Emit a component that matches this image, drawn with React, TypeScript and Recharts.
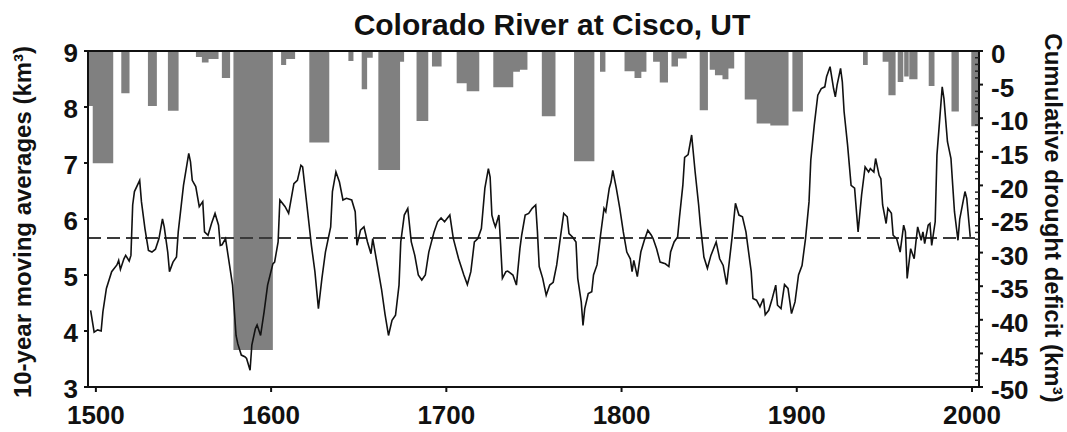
import { ComposedChart, Line, Area, XAxis, YAxis, ReferenceLine } from 'recharts'

const FONT = '"Liberation Sans", Arial, Helvetica, sans-serif'

// 10-year moving average flow (km³)
const flowYears = [
  1497, 1499, 1501, 1503, 1504, 1506, 1509, 1512, 1513, 1514, 1516, 1517, 1519, 1520, 1521, 1522, 1525, 1526, 1528, 1530,
  1532, 1534, 1536, 1538, 1539, 1541, 1542, 1544, 1546, 1547, 1550, 1553, 1554, 1555, 1557, 1559, 1561, 1562, 1564, 1566,
  1568, 1570, 1571, 1572, 1574, 1575, 1578, 1580, 1581, 1583, 1585, 1586, 1588, 1589, 1591, 1592, 1594, 1596, 1598, 1601,
  1602, 1604, 1605, 1608, 1610, 1613, 1615, 1617, 1618, 1620, 1623, 1625, 1627, 1629, 1631, 1634, 1635, 1637, 1639, 1641,
  1643, 1646, 1648, 1649, 1651, 1653, 1655, 1657, 1658, 1660, 1663, 1665, 1667, 1669, 1671, 1673, 1674, 1676, 1678, 1680,
  1682, 1684, 1686, 1688, 1690, 1693, 1695, 1697, 1699, 1702, 1704, 1707, 1710, 1712, 1714, 1716, 1718, 1720, 1722, 1724,
  1725, 1726, 1727, 1728, 1730, 1731, 1732, 1734, 1735, 1738, 1740, 1742, 1743, 1745, 1747, 1749, 1751, 1752, 1753, 1755,
  1757, 1759, 1761, 1763, 1765, 1767, 1769, 1770, 1772, 1774, 1775, 1777, 1778, 1779, 1781, 1783, 1784, 1786, 1788, 1790,
  1791, 1793, 1794, 1795, 1797, 1799, 1801, 1803, 1805, 1806, 1807, 1809, 1811, 1813, 1815, 1817, 1818, 1820, 1822, 1825,
  1827, 1828, 1830, 1832, 1833, 1835, 1836, 1838, 1840, 1842, 1844, 1845, 1847, 1849, 1851, 1854, 1856, 1858, 1860, 1863,
  1865, 1867, 1869, 1871, 1872, 1874, 1875, 1877, 1879, 1881, 1882, 1884, 1886, 1888, 1889, 1891, 1893, 1895, 1897, 1899,
  1901, 1903, 1905, 1907, 1908, 1910, 1912, 1914, 1916, 1917, 1919, 1921, 1922, 1923, 1925, 1926, 1927, 1929, 1931, 1933,
  1935, 1937, 1939, 1941, 1942, 1944, 1945, 1947, 1948, 1949, 1951, 1952, 1954, 1955, 1957, 1959, 1961, 1962, 1963, 1965,
  1967, 1968, 1969, 1971, 1972, 1973, 1975, 1976, 1977, 1979, 1980, 1983, 1984, 1986, 1988, 1989, 1990, 1992, 1993, 1996,
  1997, 1999,
]
const flowAvg = [
  4.37, 3.98, 4.02, 4.0, 4.34, 4.76, 5.06, 5.18, 5.26, 5.1, 5.29, 5.35, 5.25, 5.35, 6.25, 6.49, 6.69, 6.31, 5.83, 5.44,
  5.41, 5.46, 5.65, 6.0, 5.86, 5.41, 5.06, 5.23, 5.32, 5.77, 6.6, 7.17, 7.02, 6.69, 6.58, 6.22, 6.31, 5.77, 5.71, 5.92,
  6.1, 5.89, 5.53, 5.54, 5.65, 5.44, 4.82, 3.92, 3.77, 3.57, 3.54, 3.51, 3.3, 3.75, 4.04, 4.11, 3.92, 4.34, 4.82, 5.2,
  5.23, 5.59, 6.34, 6.22, 6.1, 6.63, 6.69, 6.96, 6.93, 6.37, 5.53, 5.06, 4.4, 4.94, 5.41, 5.86, 6.49, 6.84, 6.66, 6.34,
  6.37, 6.34, 6.13, 5.53, 5.8, 5.86, 5.59, 5.38, 5.65, 5.29, 4.75, 4.3, 3.92, 4.19, 4.28, 4.82, 5.59, 6.07, 6.19, 5.59,
  5.35, 5.0, 4.91, 5.0, 5.41, 5.77, 5.95, 6.02, 5.95, 6.07, 5.65, 5.29, 5.0, 4.83, 5.06, 5.59, 5.65, 5.83, 6.55, 6.9,
  6.75, 6.07, 5.95, 5.86, 6.07, 5.53, 4.94, 5.06, 5.07, 5.0, 4.82, 5.47, 5.71, 6.07, 6.1, 6.19, 6.25, 5.77, 5.15, 4.94,
  4.64, 4.82, 4.87, 5.18, 5.65, 6.1, 6.04, 5.74, 5.68, 5.59, 4.94, 4.52, 4.1, 4.4, 4.67, 4.7, 5.0, 5.18, 5.71, 6.19,
  6.13, 6.55, 6.66, 6.87, 6.55, 6.19, 5.77, 5.41, 5.29, 5.06, 5.26, 4.97, 5.41, 5.62, 5.8, 5.71, 5.65, 5.47, 5.23, 5.2,
  5.15, 5.41, 5.59, 5.68, 6.01, 6.61, 7.1, 7.15, 7.5, 6.84, 6.25, 5.89, 5.32, 5.12, 5.35, 5.59, 5.29, 5.17, 4.83, 5.65,
  6.28, 6.07, 6.04, 5.77, 5.53, 5.06, 4.58, 4.55, 4.43, 4.58, 4.29, 4.37, 4.58, 4.82, 4.46, 4.4, 4.83, 4.76, 4.31, 4.52,
  5.0, 5.17, 5.65, 6.31, 7.05, 7.68, 8.21, 8.33, 8.36, 8.54, 8.72, 8.33, 8.18, 8.39, 8.69, 8.45, 7.92, 7.32, 6.6, 6.55,
  5.77, 6.43, 6.93, 6.84, 6.9, 6.84, 7.08, 6.78, 6.72, 6.25, 5.92, 6.19, 6.1, 5.71, 5.65, 5.41, 5.89, 5.77, 4.94, 5.47,
  5.29, 5.59, 5.86, 5.62, 5.77, 5.56, 5.89, 5.92, 5.53, 5.95, 7.14, 8.36, 8.15, 7.38, 7.08, 6.6, 6.13, 5.62, 6.0, 6.49,
  6.37, 5.68,
]

// drought events: start year, end year, cumulative deficit (km³)
const droughtStart = [
  1495.5, 1498.2, 1514.5, 1529.7, 1541.1, 1557.1, 1560.5, 1564.3, 1571.9, 1578.5, 1605.7, 1608.6, 1621.8, 1644.1, 1651.7,
  1654.8, 1661.2, 1673.6, 1683.0, 1691.8, 1705.9, 1711.6, 1726.8, 1738.2, 1742.0, 1754.5, 1772.9, 1787.7, 1801.7, 1807.4,
  1811.3, 1818.0, 1821.8, 1828.5, 1832.2, 1844.6, 1850.3, 1853.3, 1857.6, 1861.0, 1870.3, 1877.1, 1884.9, 1897.5, 1937.8,
  1949.0, 1952.3, 1957.6, 1961.3, 1964.2, 1975.3, 1988.3, 1999.6,
]
const droughtEnd = [
  1498.2, 1509.9, 1519.2, 1534.8, 1547.2, 1560.5, 1564.3, 1570.0, 1576.6, 1601.0, 1608.6, 1613.7, 1633.2, 1647.0, 1654.8,
  1658.0, 1673.6, 1675.9, 1689.7, 1697.3, 1711.6, 1718.8, 1738.2, 1742.0, 1746.3, 1762.3, 1784.5, 1790.8, 1807.4, 1811.3,
  1814.2, 1821.8, 1826.5, 1832.2, 1837.2, 1849.3, 1853.3, 1857.6, 1861.0, 1864.3, 1877.1, 1884.9, 1895.3, 1903.5, 1940.5,
  1952.3, 1956.4, 1960.8, 1963.9, 1968.9, 1978.6, 1992.5, 2004.0,
]
const droughtDeficit = [
  -8.2, -16.7, -6.3, -8.2, -8.9, -0.9, -1.7, -1.2, -4.0, -44.5, -2.1, -1.2, -13.6, -1.5, -5.7,
  -1.0, -17.7, -1.6, -10.4, -2.3, -4.8, -6.0, -5.4, -3.1, -2.8, -9.7, -16.4, -3.1, -3.0, -4.0,
  -3.1, -1.6, -4.7, -2.3, -1.1, -8.8, -2.8, -3.6, -4.2, -2.6, -7.2, -10.8, -11.1, -9.0, -2.1,
  -1.6, -6.6, -4.6, -3.8, -4.2, -5.2, -9.0, -11.2,
]

const yearTicks = [1500, 1600, 1700, 1800, 1900, 2000]
const flowTicks = [3, 4, 5, 6, 7, 8, 9]
// every km³ gets a tick; labelled ones every 5
const deficitTicks = [
  0, -1, -2, -3, -4, -5, -6, -7, -8, -9, -10, -11, -12, -13, -14, -15, -16, -17, -18, -19, -20, -21, -22, -23, -24, -25,
  -26, -27, -28, -29, -30, -31, -32, -33, -34, -35, -36, -37, -38, -39, -40, -41, -42, -43, -44, -45, -46, -47, -48, -49, -50,
]
const longTermMean = 5.66

const flowData = flowYears.map((year, i) => ({ year, flow: flowAvg[i] }))

// step outline for the drought bars hanging from the top axis
const deficitData: { year: number; deficit: number }[] = []
droughtStart.forEach((start, i) => {
  deficitData.push({ year: start, deficit: droughtDeficit[i] })
  const next = droughtStart[i + 1]
  if (next === undefined || next > droughtEnd[i]) deficitData.push({ year: droughtEnd[i], deficit: 0 })
})

const tickStyle = { fill: '#111', fontSize: 26, fontWeight: 700, fontFamily: FONT }
const titleStyle = { fill: '#111', fontSize: 24, fontWeight: 700, fontFamily: FONT }

const RIGHT_TICK = 4
const RIGHT_MARGIN = 8

// major ticks point out with a label, minor ticks point into the plot
function DeficitTick({ x, y, payload }: any) {
  const axisX = x - RIGHT_TICK - RIGHT_MARGIN
  const major = payload.value % 5 === 0
  return (
    <g>
      {major ? (
        <>
          <line x1={axisX} x2={axisX + RIGHT_TICK} y1={y} y2={y} stroke="#111" strokeWidth={2} />
          <text x={x} y={y + 3} dy="0.355em" textAnchor="start" style={tickStyle}>
            {payload.value}
          </text>
        </>
      ) : (
        <line x1={axisX - 4} x2={axisX} y1={y} y2={y} stroke="#222" strokeWidth={1.5} />
      )}
    </g>
  )
}

export default function App() {
  return (
    <div style={{ position: 'absolute', left: 0, top: 0, width: 1067, height: 432, background: '#fff' }}>
      <ComposedChart width={1067} height={432} margin={{ top: 51, right: 0, bottom: 0, left: 0 }}>
        <XAxis
          type="number"
          dataKey="year"
          domain={[1495.5, 2004]}
          allowDataOverflow
          ticks={yearTicks}
          interval={0}
          height={45}
          tickSize={5}
          tickMargin={14}
          stroke="#111"
          strokeWidth={2}
          tick={tickStyle}
        />
        <YAxis
          yAxisId="flow"
          domain={[3, 9]}
          ticks={flowTicks}
          interval={0}
          width={88}
          tickSize={4}
          tickMargin={6}
          stroke="#111"
          strokeWidth={2}
          tick={{ ...tickStyle, dy: 2 }}
          label={{
            content: () => (
              <text x={31} y={222} transform="rotate(-90 31 222)" textAnchor="middle" style={titleStyle}>
                10-year moving averages (km³)
              </text>
            ),
          }}
        />
        <YAxis
          yAxisId="deficit"
          orientation="right"
          domain={[-50, 0]}
          ticks={deficitTicks}
          interval={0}
          width={88}
          tickSize={RIGHT_TICK}
          tickMargin={RIGHT_MARGIN}
          tickLine={false}
          stroke="#111"
          strokeWidth={2}
          tick={DeficitTick}
          label={{
            content: () => (
              <text x={1045} y={218} transform="rotate(90 1045 218)" textAnchor="middle" style={titleStyle}>
                Cumulative drought deficit (km³)
              </text>
            ),
          }}
        />
        <Area
          yAxisId="deficit"
          data={deficitData}
          dataKey="deficit"
          type="stepAfter"
          baseValue={0}
          fill="#808080"
          fillOpacity={1}
          stroke="none"
          isAnimationActive={false}
        />
        <ReferenceLine yAxisId="flow" y={longTermMean} stroke="#3a3a3a" strokeWidth={2} strokeDasharray="13 6" />
        <Line
          yAxisId="flow"
          data={flowData}
          dataKey="flow"
          type="linear"
          stroke="#111"
          strokeWidth={1.6}
          dot={false}
          isAnimationActive={false}
        />
        <ReferenceLine yAxisId="flow" y={9} stroke="#111" strokeWidth={2} />
      </ComposedChart>
      <svg width={1067} height={432} style={{ position: 'absolute', left: 0, top: 0, pointerEvents: 'none' }}>
        <text x={552} y={35} textAnchor="middle" style={{ fill: '#111', fontSize: 30, fontWeight: 700, fontFamily: FONT }}>
          Colorado River at Cisco, UT
        </text>
      </svg>
    </div>
  )
}
